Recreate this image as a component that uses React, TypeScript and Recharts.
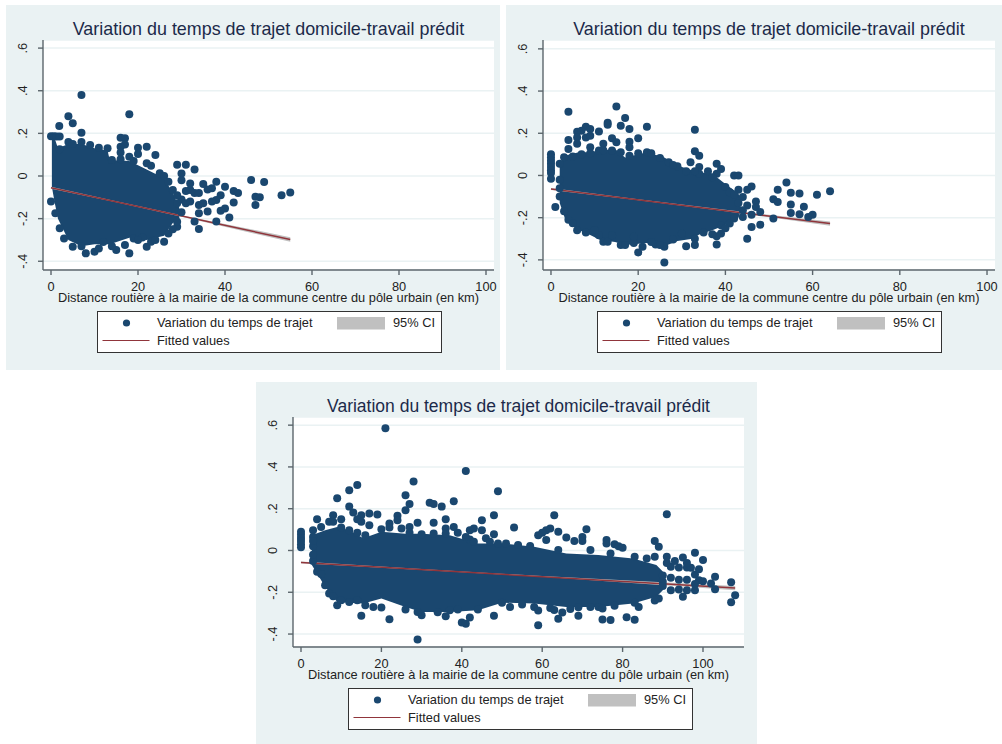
import React from "react";
import { ComposedChart, XAxis, YAxis, CartesianGrid, Scatter, Area, Line } from "recharts";

type Pt = [number, number];
type Band = [number, number, number];

const TITLE = "Variation du temps de trajet domicile-travail prédit";
const X_TITLE = "Distance routière à la mairie de la commune centre du pôle urbain (en km)";
const SERIES_POINTS = "Variation du temps de trajet";
const SERIES_CI = "95% CI";
const SERIES_FIT = "Fitted values";
const X_TICKS = [0, 20, 40, 60, 80, 100];
const Y_TICKS = [0.6, 0.4, 0.2, 0, -0.2, -0.4];
const Y_TICK_LABELS: Record<string, string> = { "0.6": ".6", "0.4": ".4", "0.2": ".2", "0": "0", "-0.2": "-.2", "-0.4": "-.4" };

const NAVY = "#1a476f";
const MAROON = "#90353b";
const GREY = "#c0c0c0";
const PANEL = "#eaf2f3";
const AXIS = "#5c666c";
const TEXT = "#1c2a4a";

// Dense core of each cloud, where markers overlap solid: x, lower edge, upper edge
const core1: Band[] = [[0.2,-0.05,0.18],[0.8,-0.12,0.18],[1.6,-0.2,0.13],[4,-0.3,0.15],[7,-0.33,0.15],[10,-0.32,0.13],[13,-0.32,0.12],[13.5,-0.32,0.075],[18,-0.29,0.07],[22,-0.3,0.03],[26,-0.28,-0.01],[28,-0.22,-0.08],[29.5,-0.2,-0.15]];
const core2: Band[] = [[2,-0.13,0.055],[3.3,-0.21,0.095],[6.4,-0.26,0.11],[8.3,-0.275,0.11],[11.3,-0.306,0.118],[14.7,-0.315,0.126],[17,-0.33,0.085],[22,-0.32,0.11],[26,-0.335,0.085],[29,-0.31,0.047],[32.5,-0.3,0.024],[34,-0.28,0.015],[37,-0.26,0.008],[40,-0.235,-0.04],[43,-0.2,-0.086],[43.5,-0.17,-0.12]];
const core3: Band[] = [[2.7,-0.07,0.073],[6,-0.174,0.097],[9,-0.246,0.113],[12,-0.25,0.097],[15.5,-0.254,0.058],[20,-0.23,0.09],[26,-0.27,0.08],[30,-0.294,0.08],[37,-0.294,0.073],[44,-0.286,0.034],[50,-0.25,0.034],[58,-0.254,0.018],[66,-0.27,-0.014],[74,-0.27,-0.022],[82.6,-0.254,-0.038],[88.4,-0.222,-0.07],[90,-0.19,-0.1]];

// Individually visible markers
const points1: Pt[] = [[7,.38],[18,.29],[4,.28],[1.9,.235],[5,.247],[7,.203],[0,.187],[.7,.187],[1.3,.185],[2,.185],[16,.18],[17,.177],[17,.148],[16,.137],[16,.11],[20,.133],[20,.103],[22,.137],[24,.098],[18,.09],[29,.053],[31,.053],[33,.031],[30,.012],[30,-.02],[32,-.035],[35,-.038],[38,-.027],[37,-.058],[36,-.063],[40,-.05],[42,-.07],[43,-.08],[39,-.09],[46,-.019],[49,-.028],[47,-.097],[48,-.1],[53,-.09],[55,-.078],[47,-.136],[42,-.124],[41,-.195],[40,-.152],[39,-.163],[38,-.113],[37,-.12],[36,-.167],[34,-.175],[34,-.136],[33,-.214],[34,-.249],[38,-.214],[32,-.066],[33,-.08],[34,-.08],[30,-.11],[31,-.07],[31,-.128],[29,-.128],[32,-.12],[35,-.128],[0,-.12],[8,-.363],[10,-.355],[15,-.347],[18,-.363],[14,-.33],[17,-.324],[19,-.293],[22,-.332],[21,-.288],[26,-.308],[5,-.332],[3,-.293],[2,-.245],[1,-.175],[7,-.329],[11,-.34],[23,-.308],[27,-.27],[29,-.238],[4,.16],[5,.15],[7,.16],[9,.145],[11,.133],[13,.13],[2,.125],[14,.075],[16,.078],[19,.07],[22,.06],[23,.048],[25,.013],[26,0],[27,-.027],[28,-.066],[12,-.31],[20,-.3],[24,-.3],[28,-.25],[29,-.215],[30,-.17],[29,-.09]];
const points2: Pt[] = [[0,.1],[0,.085],[0,.07],[0,.055],[0,.04],[0,.025],[0,.012],[0,-.015],[4,.302],[15,.327],[17,.272],[13,.25],[13,.24],[16,.236],[18,.22],[22,.231],[33,.217],[11,.208],[8,.231],[9,.22],[6,.207],[7,.212],[6,.18],[6,.15],[8,.18],[9,.188],[4,.168],[14,.176],[15,.157],[18,.16],[18,.134],[20,.176],[12,.15],[9,.134],[33,.115],[34,.094],[32,.063],[34,.04],[38,.055],[39,.031],[36,.02],[38,.008],[42,0],[43,0],[43,-.068],[45,-.068],[46,-.052],[47,-.123],[47,-.15],[48,-.173],[44,-.102],[45,-.142],[44,-.165],[44,-.197],[46,-.186],[48,-.233],[46,-.244],[45,-.3],[42,-.204],[41,-.228],[39,-.236],[39,-.275],[38,-.288],[38,-.327],[51,-.113],[52,-.126],[52,-.068],[54,-.033],[55,-.082],[57,-.086],[61,-.091],[64,-.075],[55,-.138],[58,-.148],[55,-.178],[57,-.184],[59,-.197],[60,-.186],[51,-.204],[26,-.412],[20,-.365],[21,-.338],[31,-.335],[33,-.33],[33,-.3],[12,-.314],[13,-.314],[16,-.33],[17,-.33],[19,-.32],[24,-.327],[26,-.338],[28,-.303],[8,-.27],[6,-.26],[1,-.15],[11,-.283],[3,.086],[4,.126],[7,.1],[11,.118],[14,.118],[16,.11],[18,.094],[20,.105],[22,.11],[25,.083],[27,.063],[29,.044],[31,.02],[34,.008],[37,-.008],[40,-.055],[41,-.079],[2,.055],[4,-.21],[5,-.227],[10,-.258],[14,-.283],[19,-.29],[23,-.315],[25,-.33],[30,-.276],[35,-.27],[37,-.278],[40,-.25],[5,.09],[9,.105],[12,.12],[23,.105],[28,.05],[33,.02],[42,-.09],[43,-.13],[2,-.1],[2,-.02],[2,-.06],[3,-.17]];
const points3: Pt[] = [[0,.09],[0,.075],[0,.06],[0,.045],[0,.03],[0,.015],[21,.585],[41,.38],[28,.33],[14,.313],[12,.288],[49,.284],[26,.265],[9,.25],[27,.222],[26,.193],[38,.236],[32,.228],[33,.222],[35,.21],[12,.21],[13,.182],[17,.177],[19,.172],[24,.166],[15,.169],[14,.149],[24,.145],[36,.149],[48,.169],[45,.145],[8,.169],[10,.149],[4,.15],[7,.137],[5,.113],[3,.097],[29,.133],[33,.133],[38,.113],[36,.105],[27,.113],[42,.097],[43,.105],[45,.097],[48,.078],[22,.129],[15,.137],[17,.121],[42,.053],[41,.065],[46,.058],[49,.034],[63,.169],[91,.174],[53,.11],[62,.105],[61,.097],[60,.085],[59,.073],[64,.09],[61,.05],[71,.102],[70,.065],[70,.045],[66,.062],[68,.045],[76,.05],[76,.034],[78,.03],[79,.02],[80,.013],[88,.046],[89,.018],[88,-.03],[91,-.03],[95,-.034],[98,-.011],[100,-.046],[92,-.078],[94,-.081],[96,-.081],[97,-.083],[98,-.115],[99,-.142],[100,-.147],[102,-.158],[103,-.126],[103,-.185],[107,-.152],[108,-.214],[107,-.248],[95,-.222],[98,-.19],[96,-.19],[94,-.187],[92,-.19],[90,-.15],[29,-.426],[59,-.358],[64,-.327],[69,-.313],[75,-.33],[77,-.333],[81,-.32],[83,-.332],[62,-.275],[65,-.297],[72,-.27],[74,-.27],[78,-.265],[84,-.27],[89,-.23],[40,-.345],[41,-.351],[42,-.321],[48,-.313],[15,-.313],[22,-.329],[20,-.273],[9,-.262],[26,-.283],[30,-.31],[29,-.294],[34,-.296],[36,-.315],[37,-.286],[39,-.283],[44,-.283],[16,-.262],[18,-.27],[4,-.102],[5,-.113],[6,-.166],[7,-.206],[8,-.219],[10,-.238],[12,-.246],[14,-.238],[3,.065],[8,.137],[10,.11],[12,.097],[14,.085],[16,.073],[20,.102],[22,.11],[25,.105],[27,.085],[30,.078],[33,.081],[36,.081],[39,.085],[43,.042],[47,.042],[51,.034],[54,.026],[57,.022],[64,.002],[72,.002],[77,-.014],[83,-.03],[86,-.038],[50,-.25],[52,-.27],[55,-.258],[58,-.27],[59,-.287],[63,-.285],[67,-.28],[69,-.272],[75,-.278],[83,-.25],[88,-.24],[3,-.05],[3,-.02],[3,.02],[3,.045],[90,-.12],[90,-.17],[92,-.13],[94,-.14],[96,-.14],[98,-.16],[91,-.06],[93,-.05],[96,-.06],[99,-.09]];

// Fitted line (end points) and its confidence band
const fit1: Pt[] = [[0,-.055],[55,-.298]];
const fit2: Pt[] = [[0,-.064],[64,-.228]];
const fit3: Pt[] = [[0,-.057],[108,-.18]];
const ci1: Band[] = [[0,-.06,-.05],[15,-.123,-.119],[30,-.191,-.184],[55,-.309,-.287]];
const ci2: Band[] = [[0,-.069,-.059],[20,-.117,-.113],[40,-.17,-.163],[64,-.238,-.218]];
const ci3: Band[] = [[0,-.061,-.053],[30,-.093,-.089],[60,-.126,-.122],[108,-.19,-.17]];

const toPts = (a: Pt[]) => a.map(([x, y]) => ({ x, y }));
const toBand = (a: Band[]) => a.map(([x, lo, hi]) => ({ x, band: [lo, hi] }));

const Dot = (p: any) => <circle cx={p.cx} cy={p.cy} r={4} fill={NAVY} />;

const YTick = ({ x, y, payload }: any) => (
  <text x={x - 9} y={y} transform={`rotate(-90 ${x - 9} ${y})`} textAnchor="middle" fontSize={12.8} fill="#222" fontFamily="Liberation Sans">
    {Y_TICK_LABELS[String(payload.value)]}
  </text>
);
const XTick = ({ x, y, payload }: any) => (
  <text x={x} y={y + 13.5} textAnchor="middle" fontSize={12.8} fill="#222" fontFamily="Liberation Sans">
    {payload.value}
  </text>
);

type PanelProps = {
  box: [number, number, number, number];
  plot: [number, number, number, number];
  xDomain: [number, number];
  yDomain: [number, number];
  core: Band[]; points: Pt[]; fit: Pt[]; ci: Band[];
  legend: [number, number];
  titleSize: number;
};

function LegendBox({ left, top }: { left: number; top: number }) {
  const label: React.CSSProperties = { position: "absolute", fontSize: 12.8, color: "#222", lineHeight: "14px", whiteSpace: "nowrap" };
  return (
    <div style={{ position: "absolute", left, top, width: 343, height: 40, background: "#fff", border: "1px solid #333", boxSizing: "content-box" }}>
      <svg width={343} height={40} style={{ position: "absolute", left: 0, top: 0 }}>
        <circle cx={28.5} cy={11} r={3.6} fill={NAVY} />
        <rect x={239} y={5} width={48} height={12.5} fill={GREY} />
        <line x1={4.5} x2={51.5} y1={28.5} y2={28.5} stroke={MAROON} strokeWidth={1.2} />
      </svg>
      <span style={{ ...label, left: 59, top: 4 }}>{SERIES_POINTS}</span>
      <span style={{ ...label, left: 295, top: 4 }}>{SERIES_CI}</span>
      <span style={{ ...label, left: 59, top: 22 }}>{SERIES_FIT}</span>
    </div>
  );
}

function Panel({ box, plot, xDomain, yDomain, core, points, fit, ci, legend, titleSize }: PanelProps) {
  const [pl, pt, pr, pb] = box;
  const [l, t, r, b] = plot;
  const w = pr - pl, h = pb - pt;
  const YW = 30, XH = 30;
  const center = (l + r) / 2 - pl;
  return (
    <div style={{ position: "absolute", left: pl, top: pt, width: w, height: h, background: PANEL, fontFamily: "Liberation Sans" }}>
      <ComposedChart width={w} height={h} margin={{ left: l - pl - YW, right: pr - r, top: t - pt, bottom: pb - b - XH }} style={{ position: "absolute", left: 0, top: 0 }}>
        <CartesianGrid horizontal vertical={false} stroke={PANEL} strokeWidth={1.5} fill="#fff" />
        <XAxis type="number" dataKey="x" domain={xDomain} ticks={X_TICKS} allowDataOverflow height={XH} interval={0} tick={<XTick />} stroke={AXIS} strokeWidth={1.4} tickSize={5} tickLine={{ stroke: AXIS }} />
        <YAxis type="number" dataKey="y" domain={yDomain} ticks={Y_TICKS} allowDataOverflow width={YW} interval={0} tick={<YTick />} stroke={AXIS} strokeWidth={1.4} tickSize={5} tickLine={{ stroke: AXIS }} />
        <Area data={toBand(core)} dataKey="band" type="linear" stroke="none" fill={NAVY} fillOpacity={1} dot={false} activeDot={false} isAnimationActive={false} legendType="none" />
        <Scatter data={toPts(points)} dataKey="y" name={SERIES_POINTS} shape={Dot} isAnimationActive={false} />
        <Area data={toBand(ci)} dataKey="band" type="linear" stroke="none" fill={GREY} fillOpacity={1} dot={false} activeDot={false} isAnimationActive={false} name={SERIES_CI} />
        <Line data={toPts(fit)} dataKey="y" type="linear" stroke={MAROON} strokeWidth={1.5} dot={false} activeDot={false} isAnimationActive={false} name={SERIES_FIT} />
      </ComposedChart>
      <div style={{ position: "absolute", left: center - 240, width: 480, top: t - pt - 21, textAlign: "center", fontSize: titleSize, lineHeight: "20px", color: TEXT, whiteSpace: "nowrap" }}>{TITLE}</div>
      <div style={{ position: "absolute", left: center - 240, width: 480, top: b - pt + 21, textAlign: "center", fontSize: 12.8, lineHeight: "14px", color: "#222", whiteSpace: "nowrap" }}>{X_TITLE}</div>
      <LegendBox left={legend[0]} top={legend[1]} />
    </div>
  );
}

export default function App() {
  return (
    <div style={{ position: "absolute", left: 0, top: 0, width: 1002, height: 744, background: "#fff", overflow: "hidden" }}>
      <Panel box={[6, 5, 500, 370]} plot={[43, 40, 494, 270]} xDomain={[-1.84, 101.84]} yDomain={[-0.441, 0.638]} core={core1} points={points1} fit={fit1} ci={ci1} legend={[91, 306]} titleSize={17.9} />
      <Panel box={[506, 5, 1002, 370]} plot={[543, 40, 995, 270]} xDomain={[-1.83, 101.83]} yDomain={[-0.448, 0.642]} core={core2} points={points2} fit={fit2} ci={ci2} legend={[91, 306]} titleSize={17.9} />
      <Panel box={[256, 382, 757, 744]} plot={[293, 417, 744, 647]} xDomain={[-1.99, 110.2]} yDomain={[-0.462, 0.639]} core={core3} points={points3} fit={fit3} ci={ci3} legend={[92, 306]} titleSize={17.5} />
    </div>
  );
}
